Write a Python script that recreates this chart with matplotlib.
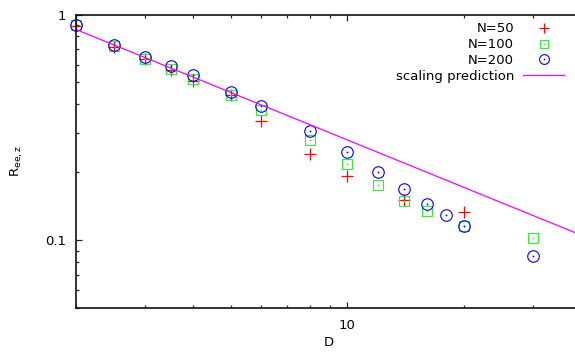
import numpy as np
import matplotlib
matplotlib.use("Agg")
import matplotlib.pyplot as plt
from matplotlib.ticker import FixedLocator, FixedFormatter, LogLocator, NullFormatter

# data (log-log)
d_n50 = [2, 2.5, 3, 3.5, 4, 5, 6, 8, 10, 14, 20]
r_n50 = [0.885, 0.719, 0.633, 0.569, 0.509, 0.441, 0.337, 0.241, 0.192, 0.151, 0.134]

d_n100 = [2, 2.5, 3, 3.5, 4, 5, 6, 8, 10, 12, 14, 16, 20, 30, 40]
r_n100 = [0.894, 0.722, 0.637, 0.575, 0.518, 0.441, 0.376, 0.279, 0.217, 0.175,
          0.150, 0.135, 0.1157, 0.1022, 0.100]

d_n200 = [2, 2.5, 3, 3.5, 4, 5, 6, 8, 10, 12, 14, 16, 18, 20, 30]
r_n200 = [0.894, 0.7335, 0.651, 0.589, 0.5385, 0.456, 0.394, 0.306, 0.2455, 0.2005,
          0.169, 0.1443, 0.129, 0.1157, 0.0856]

# scaling prediction, a straight line in log-log
d_pred = [2, 40]
r_pred = [0.857, 0.1055]

plt.rcParams["font.family"] = ["DejaVu Sans"]
plt.rcParams["font.size"] = 9.5

fig = plt.figure(figsize=(5.75, 3.54), dpi=100)
ax = fig.add_axes([76.3 / 575, (354 - 308.3) / 354, (581 - 76.3) / 575, (308.3 - 14.5) / 354])

red = "#ff0000"
green = "#33ee33"
blue = "#0000ff"
magenta = "#ff00ff"

p50, = ax.plot(d_n50, r_n50, ls="none", marker="+", ms=9, mew=0.9, color=red, clip_on=False)
p100, = ax.plot(d_n100, r_n100, ls="none", marker="s", ms=7.3, mew=0.85, mfc="none",
                mec=green, clip_on=False)
p100d, = ax.plot(d_n100, r_n100, ls="none", marker="o", ms=1.3, mew=0, color=green, clip_on=False)
p200, = ax.plot(d_n200, r_n200, ls="none", marker="o", ms=8.3, mew=0.8, mfc="none",
                mec=blue, clip_on=False)
p200d, = ax.plot(d_n200, r_n200, ls="none", marker="o", ms=1.3, mew=0, color=blue, clip_on=False)
pline, = ax.plot(d_pred, r_pred, color=magenta, lw=0.9)

ax.set_xscale("log")
ax.set_yscale("log")
ax.set_xlim(2, 40)
ax.set_ylim(0.05, 1)

ax.xaxis.set_major_locator(FixedLocator([10]))
ax.xaxis.set_major_formatter(FixedFormatter(["10"]))
ax.xaxis.set_minor_locator(LogLocator(base=10, subs=np.arange(2, 10)))
ax.xaxis.set_minor_formatter(NullFormatter())
ax.yaxis.set_major_locator(FixedLocator([0.1, 1]))
ax.yaxis.set_major_formatter(FixedFormatter(["0.1", "1"]))
ax.yaxis.set_minor_locator(LogLocator(base=10, subs=np.arange(2, 10)))
ax.yaxis.set_minor_formatter(NullFormatter())

ax.tick_params(which="both", direction="in", top=True, right=True, width=0.9, color="#222222")
ax.tick_params(which="major", length=4.3)
ax.tick_params(which="minor", length=2.2)
ax.tick_params(axis="x", which="major", pad=7.5)
ax.tick_params(axis="y", which="major", pad=7.4)
for s in ax.spines.values():
    s.set_linewidth(1.2)
    s.set_color("#111111")

ax.set_xlabel("D")
ax.xaxis.set_label_coords(0.5, -0.094)
ax.set_ylabel(r"$\mathregular{R_{ee,z}}$")
ax.yaxis.set_label_coords(-0.1016, 0.5)

leg = ax.legend([p50, (p100, p100d), (p200, p200d), pline],
                ["N=50", "N=100", "N=200", "scaling prediction"],
                loc="upper right", bbox_to_anchor=(564 / 575, (354 - 22.5) / 354),
                bbox_transform=fig.transFigure, frameon=False, markerfirst=False,
                borderpad=0, borderaxespad=0, handlelength=3.1, handletextpad=0.68,
                labelspacing=0.21, numpoints=1, markerscale=0.85)
# right-align the legend rows like gnuplot does
for col in leg._legend_handle_box.get_children():
    col.align = "right"

fig.savefig("out.png", dpi=100)
